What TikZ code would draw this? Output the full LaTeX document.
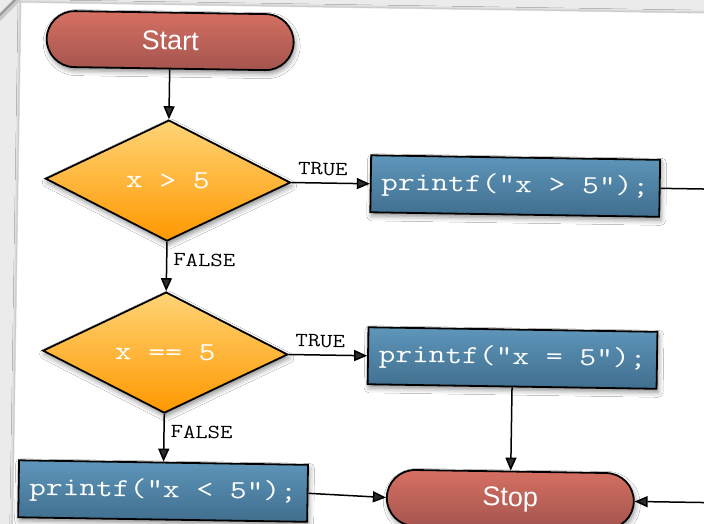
\documentclass[tikz,border=0pt]{standalone}
\usepackage{fontspec}
\usepackage{graphicx}
\usetikzlibrary{shapes.geometric,arrows.meta,shadows.blur}
\newfontfamily\pillfont{Liberation Sans}

\definecolor{pilltop}{RGB}{214,112,98}
\definecolor{pillbot}{RGB}{163,84,78}
\definecolor{dectop}{RGB}{255,212,118}
\definecolor{decbot}{RGB}{255,152,0}
\definecolor{boxtop}{RGB}{94,150,186}
\definecolor{boxbot}{RGB}{64,110,142}
\definecolor{deskgray}{RGB}{235,235,235}

% lettering inside the shapes
\newcommand\pilltext[1]{{\pillfont\fontsize{27}{30}\selectfont\textcolor{white}{#1}}}
\newcommand\codeword[1]{\textcolor{white}{\scalebox{1.25}[1]{\fontsize{26}{30}\selectfont\ttfamily #1}}}
\newcommand\branchword[1]{\scalebox{1.2}[1]{\fontsize{20}{24}\selectfont\ttfamily #1}}

\tikzset{
  dropshade/.style={blur shadow={shadow xshift=1.5pt, shadow yshift=-3.5pt,
      shadow blur radius=5pt, shadow opacity=45}},
  pill/.style={rectangle, rounded corners=28pt, minimum width=247pt,
      minimum height=56pt, inner sep=0pt, draw=black, line width=1.8pt,
      top color=pilltop, bottom color=pillbot, dropshade, transform shape},
  decision/.style={diamond, aspect=2, minimum width=245pt, minimum height=121pt,
      inner sep=0pt, draw=black, line width=1.8pt,
      top color=dectop, bottom color=decbot, dropshade, transform shape},
  codebox/.style={rectangle, minimum width=289pt, minimum height=57pt,
      inner sep=0pt, draw=black, line width=1.8pt,
      top color=boxtop, bottom color=boxbot, dropshade, transform shape},
  flow/.style={line width=1.5pt, -{Triangle[length=13pt,width=11pt]}},
  plainflow/.style={line width=1.5pt},
  branch/.style={inner sep=0pt, text=black, transform shape},
}

\begin{document}
\begin{tikzpicture}[x=1pt,y=-1pt]
\useasboundingbox (0,0) rectangle (704,524);
\clip (0,0) rectangle (704,524);
% desk behind the sheet
\fill[deskgray] (0,0) rectangle (704,524);

\begin{scope}[rotate around={-0.9:(352,262)}]
  % the sheet
  \fill[white, blur shadow={shadow xshift=0pt, shadow yshift=0pt,
      shadow blur radius=3pt, shadow opacity=35}] (17,7.7) rectangle (760,640);
  \draw[black!16, line width=0.6pt] (17,640) -- (17,7.7) -- (760,7.7);

  % shapes
  \node[pill]     (start) at (166.7,43.5)  {\pilltext{Start}};
  \node[decision] (gt)    at (166.7,183.5) {\codeword{x > 5}};
  \node[decision] (eq)    at (166.7,355.5) {\codeword{x == 5}};
  \node[codebox]  (pgt)   at (514,183.5)   {\codeword{printf("x > 5");}};
  \node[codebox]  (peq)   at (514,355.5)   {\codeword{printf("x = 5");}};
  \node[codebox]  (plt)   at (166.7,494)   {\codeword{printf("x < 5");}};
  \node[pill]     (stop)  at (514,497)     {\pilltext{Stop}};

  \coordinate (outgt)  at (740,183.5);
  \coordinate (backin) at (740,497);

  % connectors
  \draw[flow] (start) -- (gt);
  \draw[flow] (gt.east) -- node[branch, pos=0.4, above=7pt] (t1) {\branchword{TRUE}} (pgt.west);
  \draw[plainflow] (pgt.east) -- (outgt);
  \draw[flow] (gt.south) -- node[branch, pos=0.36, right=6pt] (f1) {\branchword{FALSE}} (eq.north);
  \draw[flow] (eq.east) -- node[branch, pos=0.4, above=7pt] (t2) {\branchword{TRUE}} (peq.west);
  \draw[flow] (peq.south) -- (stop.north);
  \draw[flow] (eq.south) -- node[branch, pos=0.37, right=6pt] (f2) {\branchword{FALSE}} (plt.north);
  \draw[flow] (plt.east) -- (stop.west);
  \draw[flow] (backin) -- (stop.east);
\end{scope}

% curled corner of the frame
\draw[black!22, line width=6pt] (-2,19) -- (19,-2);
\draw[black!40, line width=2pt] (-2,17) -- (17,-2);
\end{tikzpicture}
\end{document}
